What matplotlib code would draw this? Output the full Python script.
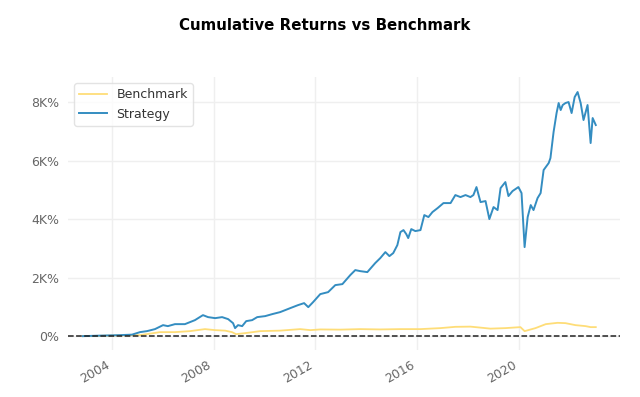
import pandas as pd
import matplotlib
matplotlib.use("Agg")
import matplotlib.pyplot as plt
import matplotlib.dates as mdates
from matplotlib.ticker import FuncFormatter

# Strategy cumulative return (%)
strategy_dates = [
    "2002-11-10", "2003-07-12", "2004-04-23", "2004-10-15", "2005-02-07", "2005-05-18",
    "2005-09-10", "2006-01-04", "2006-03-14", "2006-06-24", "2006-11-14", "2007-04-07",
    "2007-07-31", "2007-10-12", "2008-01-22", "2008-05-01", "2008-07-27", "2008-10-05",
    "2008-11-03", "2008-12-16", "2009-02-13", "2009-04-12", "2009-07-06", "2009-09-17",
    "2010-01-09", "2010-04-20", "2010-08-12", "2011-01-04", "2011-04-26", "2011-07-22",
    "2011-09-20", "2011-11-28", "2012-03-10", "2012-07-01", "2012-10-12", "2013-01-22",
    "2013-05-15", "2013-07-26", "2013-10-04", "2014-01-15", "2014-05-08", "2014-07-20",
    "2014-10-01", "2014-11-28", "2015-01-22", "2015-03-22", "2015-05-05", "2015-06-18",
    "2015-07-28", "2015-08-25", "2015-10-08", "2015-12-05", "2016-02-17", "2016-04-12",
    "2016-06-10", "2016-08-07", "2016-10-20", "2017-01-12", "2017-04-24", "2017-07-02",
    "2017-09-13", "2017-11-25", "2018-02-03", "2018-03-18", "2018-05-01", "2018-06-28",
    "2018-09-08", "2018-11-02", "2019-01-01", "2019-02-28", "2019-04-12", "2019-06-20",
    "2019-08-03", "2019-10-01", "2019-12-24", "2020-02-07", "2020-03-22", "2020-05-05",
    "2020-06-18", "2020-07-28", "2020-09-24", "2020-11-07", "2020-12-20", "2021-03-03",
    "2021-03-28", "2021-05-12", "2021-06-24", "2021-07-24", "2021-08-22", "2021-09-20",
    "2021-10-30", "2021-12-13", "2022-01-26", "2022-03-11", "2022-04-22", "2022-06-05",
    "2022-07-16", "2022-09-12", "2022-10-26", "2022-11-24", "2023-01-08",
]
strategy_pct = [
    0, 17, 34, 51, 137, 171,
    240, 376, 342, 410, 410, 547,
    718, 650, 615, 650, 581, 444,
    274, 376, 342, 513, 547, 650,
    684, 752, 821, 957, 1060, 1128,
    991, 1162, 1436, 1504, 1744, 1778,
    2086, 2257, 2222, 2188, 2496, 2667,
    2872, 2735, 2838, 3111, 3556, 3624,
    3487, 3351, 3658, 3590, 3624, 4137,
    4069, 4240, 4376, 4547, 4547, 4821,
    4752, 4821, 4752, 4821, 5094, 4581,
    4616, 4000, 4411, 4308, 5060, 5265,
    4787, 4958, 5094, 4889, 3043, 4069,
    4479, 4308, 4718, 4889, 5676, 5915,
    6086, 6975, 7624, 7966, 7727, 7898,
    7966, 8000, 7624, 8171, 8342, 7966,
    7385, 7898, 6599, 7453, 7214,
]

# Benchmark cumulative return (%)
bench_dates = [
    "2002-11-10", "2003-07-12", "2004-04-23", "2005-02-07", "2005-11-20", "2006-06-24",
    "2007-01-26", "2007-08-29", "2008-01-22", "2008-06-14", "2008-09-20", "2008-11-17",
    "2009-03-28", "2009-10-30", "2010-08-12", "2011-05-27", "2011-10-20", "2012-03-10",
    "2012-12-24", "2013-10-04", "2014-07-20", "2015-05-05", "2016-02-17", "2016-11-28",
    "2017-07-02", "2018-02-03", "2018-06-28", "2018-11-17", "2019-06-20", "2020-01-22",
    "2020-03-22", "2020-08-25", "2021-01-20", "2021-07-08", "2021-10-30", "2022-03-22",
    "2022-08-15", "2022-10-26", "2023-01-08",
]
bench_pct = [
    0, 10, 24, 34, 137, 137,
    171, 240, 205, 188, 137, 68,
    103, 171, 188, 240, 205, 229,
    222, 240, 229, 240, 240, 274,
    318, 325, 291, 256, 274, 308,
    171, 274, 410, 455, 444, 376,
    342, 308, 308,
]

strategy = pd.Series(strategy_pct, index=pd.to_datetime(strategy_dates), name="Strategy")
benchmark = pd.Series(bench_pct, index=pd.to_datetime(bench_dates), name="Benchmark")

plt.rcParams["font.family"] = ["DejaVu Sans"]

fig = plt.figure(figsize=(6.4, 3.97), dpi=100)
ax = fig.add_axes([0.106, 0.118, 0.863, 0.688])

ax.plot(benchmark.index, benchmark.values, lw=1.3, color="#fedd78", label="Benchmark")
ax.plot(strategy.index, strategy.values, lw=1.4, color="#348dc1", label="Strategy")
ax.axhline(0, ls="--", lw=1.1, color="#222222", zorder=2)

ax.set_xlim(pd.Timestamp("2002-04-08"), pd.Timestamp("2023-12-24"))
ax.set_ylim(-479, 8855)

ax.xaxis.set_major_locator(mdates.YearLocator(4))
ax.xaxis.set_major_formatter(mdates.DateFormatter("%Y"))
ax.yaxis.set_major_locator(matplotlib.ticker.MultipleLocator(2000))
ax.yaxis.set_major_formatter(FuncFormatter(lambda v, p: "0%" if v == 0 else f"{v / 1000:.0f}K%"))

for s in ax.spines.values():
    s.set_visible(False)
ax.grid(True, color="#efefef", lw=1)
ax.set_axisbelow(True)
ax.tick_params(axis="both", length=0, labelsize=9, colors="#666666", pad=6)
for lbl in ax.get_xticklabels():
    lbl.set_rotation(30)
    lbl.set_ha("right")

leg = ax.legend(loc="upper left", fontsize=9, frameon=True, fancybox=True,
                borderpad=0.4, handlelength=2.2)
leg.get_frame().set_edgecolor("#dddddd")
for t in leg.get_texts():
    t.set_color("#333333")

fig.text(0.507, 0.937, "Cumulative Returns vs Benchmark", ha="center", va="center",
         fontsize=10.8, fontweight="bold")

fig.savefig("out.png", dpi=100)
